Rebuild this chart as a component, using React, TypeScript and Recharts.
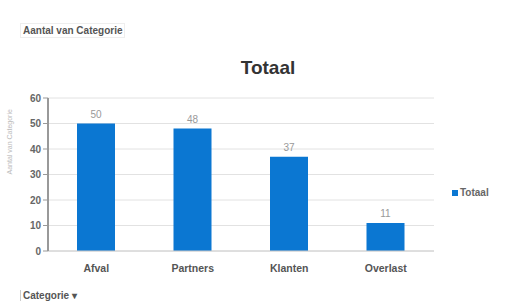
import { BarChart, Bar, XAxis, YAxis, CartesianGrid, LabelList } from "recharts"

// Pivot chart: count per category
const categories = ["Afval", "Partners", "Klanten", "Overlast"]
const totals = [50, 48, 37, 11]
const yTicks = [0, 10, 20, 30, 40, 50, 60]

const data = categories.map((c, i) => ({ categorie: c, totaal: totals[i] }))

const font = "'Liberation Sans', Arial, sans-serif"

export default function App() {
  return (
    <div style={{ position: "absolute", left: 0, top: 0, width: 506, height: 308, background: "#fff", fontFamily: font }}>
      <div
        style={{
          position: "absolute",
          left: 20,
          top: 23,
          padding: "1px 2px",
          border: "1px solid #eee",
          fontSize: 10,
          fontWeight: 700,
          color: "#555",
        }}
      >
        Aantal van Categorie
      </div>
      <div style={{ position: "absolute", left: 0, width: 536, top: 57, textAlign: "center", fontSize: 19, fontWeight: 900, color: "#333" }}>
        Totaal
      </div>
      <BarChart width={506} height={308} data={data} margin={{ top: 98, right: 72, bottom: 37, left: 8 }}>
        <CartesianGrid vertical={false} stroke="#e2e2e2" />
        <XAxis
          dataKey="categorie"
          height={20}
          tickLine={false}
          axisLine={{ stroke: "#ccc" }}
          tick={{ fontSize: 10.5, fontWeight: 700, fill: "#555", fontFamily: font }}
          tickMargin={8}
        />
        <YAxis
          width={40}
          domain={[0, 60]}
          ticks={yTicks}
          interval={0}
          tickSize={5}
          axisLine={{ stroke: "#999", strokeWidth: 2 }}
          tickLine={{ stroke: "#999" }}
          tick={{ fontSize: 10, fontWeight: 700, fill: "#666", fontFamily: font }}
          label={{ value: "Aantal van Categorie", angle: -90, position: "insideLeft", offset: 2, fontSize: 7, fill: "#bbb" }}
        />
        <Bar dataKey="totaal" fill="#0b77d2" barSize={38} isAnimationActive={false}>
          <LabelList dataKey="totaal" position="top" offset={6} style={{ fontSize: 10, fill: "#999", fontFamily: font }} />
        </Bar>
      </BarChart>
      <div style={{ position: "absolute", left: 452, top: 187, fontSize: 10, fontWeight: 700, color: "#666", display: "flex", alignItems: "center" }}>
        <span style={{ display: "inline-block", width: 6, height: 6, background: "#0b77d2", marginRight: 2 }} />
        Totaal
      </div>
      <div style={{ position: "absolute", left: 20, top: 290, fontSize: 10, fontWeight: 700, color: "#555", borderLeft: "1px solid #ccc", paddingLeft: 2 }}>
        Categorie ▾
      </div>
    </div>
  )
}
